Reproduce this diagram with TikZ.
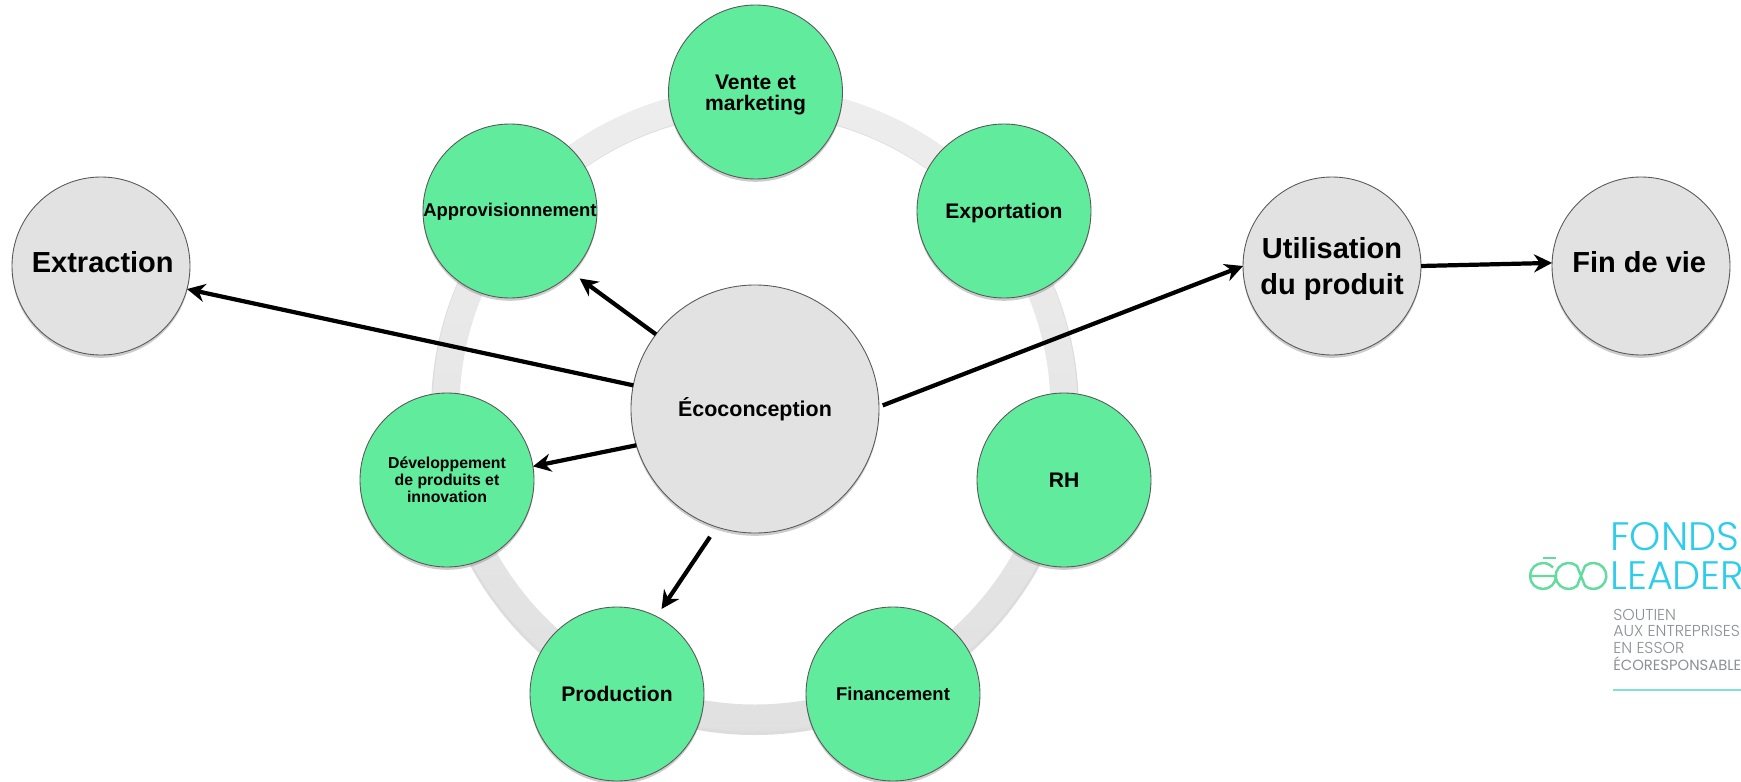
\documentclass[tikz,border=0pt]{standalone}
\usepackage{fontspec}
\setmainfont{Liberation Sans}
\newfontfamily\logofont{Poppins Light}
\newfontfamily\logoheavy{Poppins}
\usepackage{xcolor}
\usetikzlibrary{positioning,arrows.meta,shadows}
\definecolor{bubblegreen}{HTML}{61EB9D}
\definecolor{bubblegrey}{HTML}{E2E2E2}
\definecolor{logoblue}{HTML}{2CCDEB}
\definecolor{logogreen}{HTML}{62DC9E}
\definecolor{logotext}{HTML}{8A9094}
\tikzset{
bubble/.style={circle, draw=black!65, line width=0.5pt, inner sep=0pt, outer sep=0pt, minimum size=34.8mm, align=center, drop shadow={shadow xshift=0pt, shadow yshift=-1.6pt, opacity=.4}},
green bubble/.style={bubble, fill=bubblegreen},
grey bubble/.style={bubble, fill=bubblegrey, minimum size=35.6mm},
flow/.style={line width=2.4pt, -{Stealth[length=3.6mm,width=3.6mm]}},
logo line/.style={logogreen, line width=1.4pt},
logo big/.style={logoblue, inner sep=0pt, anchor=base west, font=\logofont\fontsize{22.6}{23}\selectfont},
logo small/.style={logotext, inner sep=0pt, anchor=base west, font=\logofont\fontsize{9}{10}\selectfont}
}
\newcommand{\fs}[2]{\fontsize{#1}{#2}\selectfont\bfseries}
\newcommand{\up}[2]{\raisebox{#1}[0pt][0pt]{#2}}

\begin{document}
\begin{tikzpicture}[x=0.2mm,y=-0.2mm]
	\useasboundingbox (0,0) rectangle (1741,782);
	\coordinate (c) at (755,409);

	% ring behind the circles
	\fill[black!30, opacity=.45, even odd rule] (755,411) circle (64.8mm) (755,411) circle (59.3mm);
	\shade[top color=black!7, bottom color=black!12, even odd rule] (c) circle (64.5mm) (c) circle (59.1mm);

	\node[green bubble, font=\fs{12}{12}] (vente) at (755.5,92) {\up{-4.6pt}{Vente et}\\\up{-4.6pt}{marketing}};
	\node[green bubble, font=\fs{12}{12}] (export) at (1004,211) {\up{-4.3pt}{Exportation}};
	\node[green bubble, font=\fs{12}{12}] (rh) at (1064,480) {RH};
	\node[green bubble, font=\fs{10.5}{12}] (fin) at (893,694) {Financement};
	\node[green bubble, font=\fs{12}{12}] (prod) at (617,694) {Production};
	\node[green bubble, font=\fs{9}{9.6}] (dev) at (447,480) {Développement\\de produits et\\innovation};
	\node[green bubble, font=\fs{10.5}{12}] (appro) at (510,211) {\up{-3.2pt}{Approvisionnement}};

	\node[grey bubble, minimum size=49.6mm, font=\fs{12.2}{14}] (eco) at (c) {Écoconception};
	\node[grey bubble, font=\fs{16.5}{20}] (extr) at (101,266) {\up{-3.45pt}{\hspace{2pt}Extraction}};
	\node[grey bubble, font=\fs{16.5}{20}] (util) at (1332,266) {\up{-6pt}{Utilisation}\\\up{-6pt}{du produit}};
	\node[grey bubble, font=\fs{16.5}{20}] (fdv) at (1641,266) {\up{-3.45pt}{Fin de vie\hspace{2pt}}};

	\draw[flow] (eco.169.6) -- (extr.-15);
	\draw[flow, shorten >=2mm] (eco.143) -- (appro.-45);
	\draw[flow] (eco.-163.5) -- (dev.9);
	\draw[flow, shorten <=2.4mm, shorten >=1.8mm] (eco.-108) -- (prod.63);
	\draw[flow, shorten <=.8mm] (eco.1) -- (util.180);
	\draw[flow] (util.0) -- (fdv.178);

	% logo
	\node[logo big] (fonds) at (1610,550) {FONDS};
	\node[logo big] (leader) at (1610,589) {LEADER};
	\node[logo small] (l1) at (1613,620) {SOUTIEN};
	\node[logo small] (l2) at (1613,636) {AUX ENTREPRISES};
	\node[logo small] (l3) at (1613,653) {EN ESSOR};
	\node[logo small, font=\logoheavy\fontsize{8.4}{10}\selectfont] (l4) at (1613,670) {ÉCORESPONSABLE};
	\draw[logoblue!45!logogreen!70, line width=0.6pt] (1613,690) -- (1741,690);
	\draw[logo line] (1531,576) -- (1556,576) arc (0:-320:2.6mm);
	\draw[logo line] (1543,558) -- (1556,558);
	\draw[logo line] (1577,566) arc (50:310:2.6mm) -- (1585,566) arc (130:-130:2.6mm) -- cycle;
\end{tikzpicture}
\end{document}
